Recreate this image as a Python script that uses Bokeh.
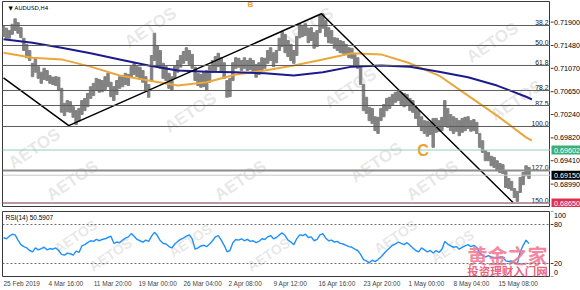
from bokeh.plotting import figure
from bokeh.models import Range1d, FixedTicker, Span, Label
from bokeh.layouts import column, row
from bokeh.embed import file_html
from bokeh.resources import INLINE
from bokeh.core.properties import value

# ---------------- data ----------------
chart_title = "▼ AUDUSD,H4"
rsi_title = "RSI(14) 50.5907"
bar_step = 2  # one sample every 2 H4 bars

highs = [
    0.7182, 0.7179, 0.7175, 0.7186, 0.7196, 0.7189, 0.7180, 0.7161, 0.7150, 0.7139,
    0.7116, 0.7125, 0.7110, 0.7100, 0.7107, 0.7103, 0.7094, 0.7091, 0.7092, 0.7091,
    0.7071, 0.7044, 0.7049, 0.7047, 0.7038, 0.7031, 0.7035, 0.7049, 0.7053, 0.7062,
    0.7074, 0.7080, 0.7089, 0.7087, 0.7085, 0.7092, 0.7098, 0.7082, 0.7074, 0.7085,
    0.7092, 0.7094, 0.7098, 0.7096, 0.7110, 0.7116, 0.7110, 0.7109, 0.7103, 0.7092,
    0.7078, 0.7130, 0.7170, 0.7148, 0.7139, 0.7116, 0.7110, 0.7098, 0.7092, 0.7112,
    0.7121, 0.7130, 0.7137, 0.7144, 0.7139, 0.7132, 0.7109, 0.7098, 0.7096, 0.7100,
    0.7103, 0.7110, 0.7121, 0.7128, 0.7134, 0.7126, 0.7117, 0.7085, 0.7089, 0.7117,
    0.7126, 0.7125, 0.7121, 0.7126, 0.7121, 0.7125, 0.7121, 0.7114, 0.7117, 0.7126,
    0.7125, 0.7139, 0.7144, 0.7135, 0.7139, 0.7161, 0.7173, 0.7168, 0.7157, 0.7150,
    0.7139, 0.7164, 0.7186, 0.7184, 0.7187, 0.7179, 0.7180, 0.7171, 0.7175, 0.7202,
    0.7205, 0.7193, 0.7180, 0.7175, 0.7162, 0.7161, 0.7157, 0.7155, 0.7150, 0.7144,
    0.7143, 0.7132, 0.7126, 0.7110, 0.7078, 0.7055, 0.7037, 0.7035, 0.7020, 0.7019,
    0.7035, 0.7042, 0.7053, 0.7055, 0.7060, 0.7064, 0.7067, 0.7064, 0.7062, 0.7060,
    0.7053, 0.7049, 0.7038, 0.7031, 0.7020, 0.7013, 0.7012, 0.7010, 0.7017, 0.7017,
    0.7013, 0.7019, 0.7049, 0.7035, 0.7024, 0.7020, 0.7017, 0.7013, 0.7017, 0.7019,
    0.7020, 0.7013, 0.7015, 0.7010, 0.6990, 0.6977, 0.6959, 0.6956, 0.6949, 0.6947,
    0.6941, 0.6936, 0.6934, 0.6923, 0.6909, 0.6904, 0.6891, 0.6886, 0.6911, 0.6920,
    0.6932, 0.6929,
]
lows = [
    0.7164, 0.7161, 0.7161, 0.7168, 0.7175, 0.7170, 0.7162, 0.7139, 0.7126, 0.7121,
    0.7092, 0.7100, 0.7089, 0.7080, 0.7087, 0.7085, 0.7080, 0.7078, 0.7076, 0.7067,
    0.7028, 0.7022, 0.7029, 0.7028, 0.7019, 0.7006, 0.7012, 0.7024, 0.7031, 0.7038,
    0.7053, 0.7058, 0.7067, 0.7064, 0.7065, 0.7069, 0.7074, 0.7056, 0.7049, 0.7060,
    0.7071, 0.7074, 0.7078, 0.7076, 0.7092, 0.7096, 0.7092, 0.7087, 0.7082, 0.7067,
    0.7055, 0.7085, 0.7121, 0.7112, 0.7107, 0.7089, 0.7085, 0.7071, 0.7067, 0.7089,
    0.7100, 0.7109, 0.7116, 0.7121, 0.7114, 0.7107, 0.7085, 0.7076, 0.7073, 0.7074,
    0.7067, 0.7082, 0.7100, 0.7103, 0.7110, 0.7100, 0.7089, 0.7055, 0.7056, 0.7085,
    0.7107, 0.7109, 0.7103, 0.7107, 0.7103, 0.7105, 0.7100, 0.7091, 0.7096, 0.7103,
    0.7107, 0.7116, 0.7121, 0.7110, 0.7117, 0.7139, 0.7146, 0.7135, 0.7128, 0.7121,
    0.7116, 0.7130, 0.7162, 0.7164, 0.7166, 0.7153, 0.7157, 0.7143, 0.7146, 0.7171,
    0.7179, 0.7164, 0.7153, 0.7152, 0.7143, 0.7139, 0.7135, 0.7134, 0.7132, 0.7126,
    0.7125, 0.7110, 0.7107, 0.7078, 0.7031, 0.7026, 0.7013, 0.7008, 0.6995, 0.6990,
    0.7013, 0.7020, 0.7031, 0.7035, 0.7042, 0.7046, 0.7049, 0.7042, 0.7038, 0.7040,
    0.7031, 0.7028, 0.7017, 0.7004, 0.6995, 0.6990, 0.6985, 0.6988, 0.6965, 0.6992,
    0.6994, 0.6995, 0.7004, 0.7001, 0.6995, 0.6990, 0.6994, 0.6986, 0.6992, 0.6995,
    0.6999, 0.6994, 0.6995, 0.6990, 0.6965, 0.6956, 0.6941, 0.6941, 0.6932, 0.6929,
    0.6923, 0.6920, 0.6918, 0.6893, 0.6891, 0.6888, 0.6875, 0.6868, 0.6884, 0.6898,
    0.6914, 0.6909,
]
rsi_values = [
    60, 58, 62, 65, 64, 56, 49, 46, 44, 40,
    38, 44, 41, 43, 45, 41, 43, 42, 44, 40,
    34, 33, 36, 35, 33, 39, 37, 47, 49, 52,
    55, 54, 57, 55, 57, 58, 60, 62, 51, 53,
    52, 56, 59, 61, 66, 62, 57, 55, 53, 56,
    54, 62, 68, 63, 55, 51, 50, 46, 44, 50,
    54, 57, 59, 62, 64, 58, 42, 44, 47, 48,
    46, 50, 55, 61, 63, 56, 48, 38, 40, 52,
    57, 56, 58, 55, 57, 54, 55, 52, 54, 58,
    57, 61, 63, 58, 60, 64, 67, 63, 56, 53,
    49, 58, 64, 63, 65, 60, 61, 55, 57, 64,
    66, 59, 55, 56, 53, 54, 51, 50, 48, 46,
    45, 42, 40, 34, 26, 24, 21, 25, 23, 26,
    30, 35, 40, 44, 48, 50, 53, 51, 49, 52,
    48, 44, 40, 38, 44, 41, 38, 40, 36, 40,
    37, 42, 54, 50, 47, 45, 46, 42, 45, 47,
    49, 46, 48, 45, 36, 33, 30, 32, 30, 29,
    28, 30, 30, 24, 23, 24, 21, 20, 38, 48,
    56, 50.59,
]

ma_bars = [0, 20, 40, 60, 80, 100, 120, 140, 160, 180, 200, 220, 240, 260, 280, 300, 320, 340, 360, 364]
ma_blue = [0.7159, 0.7153, 0.7144, 0.7134, 0.7123, 0.7112, 0.7103, 0.7101, 0.7100, 0.7098,
           0.7094, 0.7100, 0.7110, 0.7112, 0.7110, 0.7101, 0.7091, 0.7076, 0.7056, 0.7051]
ma_orange = [0.7135, 0.7126, 0.7123, 0.7110, 0.7094, 0.7085, 0.7076, 0.7082, 0.7096, 0.7103,
             0.7112, 0.7123, 0.7134, 0.7132, 0.7116, 0.7094, 0.7058, 0.7022, 0.6983, 0.6977]

zigzag_bars = [0, 45, 219, 351]
zigzag_prices = [0.7090, 0.7004, 0.7205, 0.6866]

fib_labels = ["38.2", "50.0", "61.8", "78.2", "87.5", "100.0", "127.0", "150.0"]
fib_prices = [0.71839, 0.71480, 0.71121, 0.70672, 0.70402, 0.70025, 0.69235, 0.68650]

price_ticks = [0.71900, 0.71480, 0.71070, 0.70650, 0.70240, 0.69820, 0.69410, 0.68990]
marked_prices = [0.69602, 0.69150, 0.68650]
marked_labels = ["0.69602", "0.69150", "0.68650"]
marked_line_colors = ["#8fd0b0", "#c8c8c8", "#c8849a"]
marked_box_colors = ["#3fae74", "#000000", "#e0304c"]

date_bars = [0, 31, 62, 93, 124, 155, 186, 217, 248, 279, 310, 341]
date_labels = ["25 Feb 2019", "4 Mar 16:00", "11 Mar 20:00", "19 Mar 00:00", "26 Mar 04:00",
               "2 Apr 08:00", "9 Apr 12:00", "16 Apr 16:00", "23 Apr 20:00", "1 May 00:00",
               "8 May 04:00", "15 May 08:00"]

rsi_ticks = [100, 80, 20, 0]
rsi_levels = [80, 20]

wave_texts = ["B", "C"]
wave_bars = [170, 289]
wave_prices = [0.7221, 0.6960]
wave_sizes = ["8px", "16px"]

# ---------------- layout ----------------
W = 580
SCALE_W = 30
H1, H2 = 207, 83
LEFT = 2
MAIN_W = W - SCALE_W
FRAME_W = MAIN_W - LEFT
PPB = 45 / 31                      # pixels per H4 bar
X0 = -1 / PPB
X1 = X0 + FRAME_W / PPB
Y_LO, Y_HI = 0.68570, 0.72270
FONT = value("Liberation Sans")
OUTLINE = "#3a3a3a"


def px_to_bar(px):
    return X0 + (px - LEFT) / PPB


def py_to_price(py):
    return Y_HI - (py - 1) * (Y_HI - Y_LO) / 206


def py_to_rsi(py):
    return (276 - py) * 100 / 65


def style(fig):
    fig.grid.visible = False
    fig.outline_line_color = OUTLINE
    fig.background_fill_color = "white"
    fig.border_fill_color = "white"


bars = [i * bar_step for i in range(len(highs))]

# ---------------- main price panel ----------------
p1 = figure(width=MAIN_W, height=H1, x_range=Range1d(X0, X1), y_range=Range1d(Y_LO, Y_HI),
            output_backend="svg", toolbar_location=None, x_axis_location=None,
            y_axis_location=None, min_border_left=LEFT, min_border_right=0,
            min_border_top=1, min_border_bottom=0)
style(p1)

wm_main = [(150, 27), (307, 27), (492, 42), (350, 88), (190, 112), (34, 148),
           (72, 180), (240, 180), (376, 162), (516, 100), (432, 180)]
wm = p1.text(x=[px_to_bar(a) for a, b in wm_main], y=[py_to_price(b) for a, b in wm_main],
             text=["AETOS"] * len(wm_main), angle=0.59, text_align="center",
             text_baseline="middle", text_font=FONT, text_font_style="bold",
             text_font_size="17px", text_color="#a0a0a0", text_alpha=0.25)
wm.level = "underlay"

for lab, pr in zip(fib_labels, fib_prices):
    thick = lab == "127.0"
    p1.add_layout(Span(location=pr, dimension="width",
                       line_color="#8c8c8c" if thick else "#5c5c5c",
                       line_width=2 if thick else 1))
for pr, c in zip(marked_prices, marked_line_colors):
    p1.add_layout(Span(location=pr, dimension="width", line_color=c, line_width=1))

p1.text(x=[X1] * len(fib_labels), y=fib_prices, text=fib_labels, x_offset=-2,
        text_align="right", text_baseline="bottom", text_font=FONT,
        text_font_size="6.8px", text_color="#202020")

p1.vbar(x=bars, bottom=lows, top=highs, width=1.7, color="#828282")

p1.line(ma_bars, ma_orange, line_color="#eaa73a", line_width=2)
p1.line(ma_bars, ma_blue, line_color="#1b1b8e", line_width=2)
p1.line(zigzag_bars, zigzag_prices, line_color="#000000", line_width=1.5)

for t, b, pr, fs in zip(wave_texts, wave_bars, wave_prices, wave_sizes):
    p1.text(x=[b], y=[pr], text=[t], text_align="center", text_baseline="middle",
            text_font=FONT, text_font_style="bold", text_font_size=fs,
            text_color="#f0a030")

p1.add_layout(Label(x=X0, y=Y_HI, text=chart_title, x_offset=6, y_offset=-3,
                    text_baseline="top", text_align="left", text_font="DejaVu Sans",
                    text_font_size="5.6px", text_color="#000000"))

# ---------------- price scale (right strip) ----------------
s1 = figure(width=SCALE_W, height=H1, x_range=Range1d(0, SCALE_W), y_range=p1.y_range,
            output_backend="svg", toolbar_location=None, x_axis_location=None,
            y_axis_location=None, min_border_left=0, min_border_right=0,
            min_border_top=1, min_border_bottom=0)
style(s1)
s1.outline_line_color = None
s1.segment(x0=0, x1=3, y0=price_ticks, y1=price_ticks, line_color=OUTLINE, line_width=1)
s1.text(x=[3.5] * len(price_ticks), y=price_ticks, text=[f"{t:.5f}" for t in price_ticks],
        text_align="left", text_baseline="middle", text_font=FONT,
        text_font_size="7.2px", text_color="#000000")
s1.rect(x=[15.5] * 3, y=marked_prices, width=29, height=9, height_units="screen",
        fill_color=marked_box_colors, line_color=None)
s1.text(x=[3.5] * 3, y=marked_prices, text=marked_labels, text_align="left",
        text_baseline="middle", text_font=FONT, text_font_size="7.2px",
        text_color="white")

# ---------------- RSI panel ----------------
p2 = figure(width=MAIN_W, height=H2, x_range=p1.x_range, y_range=Range1d(0, 100),
            output_backend="svg", toolbar_location=None, y_axis_location=None,
            min_border_left=LEFT, min_border_right=0, min_border_top=4,
            min_border_bottom=14)
style(p2)

char_w = {" ": 0.278, ":": 0.278, "A": 0.667, "F": 0.611, "M": 0.833, "a": 0.556,
          "b": 0.556, "e": 0.556, "p": 0.556, "r": 0.333, "y": 0.5}
DATE_FS = 6.5
centres = []
for b, lab in zip(date_bars, date_labels):
    wpx = sum(char_w.get(ch, 0.556) for ch in lab) * DATE_FS
    centres.append(round(b + wpx / 2 / PPB, 2))
axx = p2.xaxis[0]
axx.ticker = FixedTicker(ticks=centres)
axx.major_label_overrides = {c: lab for c, lab in zip(centres, date_labels)}
axx.major_label_text_font = "Liberation Sans"
axx.major_label_text_font_size = f"{DATE_FS}px"
axx.major_label_standoff = 3
axx.major_tick_out = 0
axx.major_tick_in = 0
axx.minor_tick_out = 0
axx.minor_tick_in = 0
axx.axis_line_color = None

wm_rsi = [(75, 236), (110, 254), (268, 254), (395, 236), (452, 246), (190, 240)]
wm2 = p2.text(x=[px_to_bar(a) for a, b in wm_rsi], y=[py_to_rsi(b) for a, b in wm_rsi],
              text=["AETOS"] * len(wm_rsi), angle=0.59, text_align="center",
              text_baseline="middle", text_font=FONT, text_font_style="bold",
              text_font_size="14px", text_color="#a0a0a0", text_alpha=0.25)
wm2.level = "underlay"

for lv in rsi_levels:
    p2.add_layout(Span(location=lv, dimension="width", line_color="#707070",
                       line_dash="2 2", line_width=1))
p2.line(bars, rsi_values, line_color="#1e90ff", line_width=1.4)

p2.add_layout(Label(x=X0, y=100, text=rsi_title, x_offset=3, y_offset=-2,
                    text_baseline="top", text_align="left", text_font="Liberation Sans",
                    text_font_size="6.5px", text_color="#000000"))

# site watermark (kept inside the panel)
p2.text(x=[px_to_bar(507)], y=[py_to_rsi(255)], text=["黄金之家"], text_align="center",
        text_baseline="middle", text_font=value("Noto Sans CJK SC"), text_font_style="bold",
        text_font_size="20px", text_color="#f27893", text_alpha=0.9)
p2.text(x=[px_to_bar(507)], y=[py_to_rsi(270)], text=["投资理财入门网"], text_align="center",
        text_baseline="middle", text_font=value("Noto Sans CJK SC"), text_font_style="bold",
        text_font_size="11.5px", text_color="#e8506e", text_alpha=0.9)

# ---------------- RSI scale (right strip) ----------------
s2 = figure(width=SCALE_W, height=H2, x_range=Range1d(0, SCALE_W), y_range=p2.y_range,
            output_backend="svg", toolbar_location=None, x_axis_location=None,
            y_axis_location=None, min_border_left=0, min_border_right=0,
            min_border_top=4, min_border_bottom=14)
style(s2)
s2.outline_line_color = None
s2.segment(x0=0, x1=3, y0=rsi_ticks, y1=rsi_ticks, line_color=OUTLINE, line_width=1)
s2.text(x=[3.5] * len(rsi_ticks), y=rsi_ticks, text=[str(t) for t in rsi_ticks],
        y_offset=[4, 0, 0, -4], text_align="left", text_baseline="middle", text_font=FONT,
        text_font_size="7.2px", text_color="#000000")

layout = column(row(p1, s1, spacing=0), row(p2, s2, spacing=0), spacing=0)
open("out.html", "w").write(file_html(layout, INLINE))
